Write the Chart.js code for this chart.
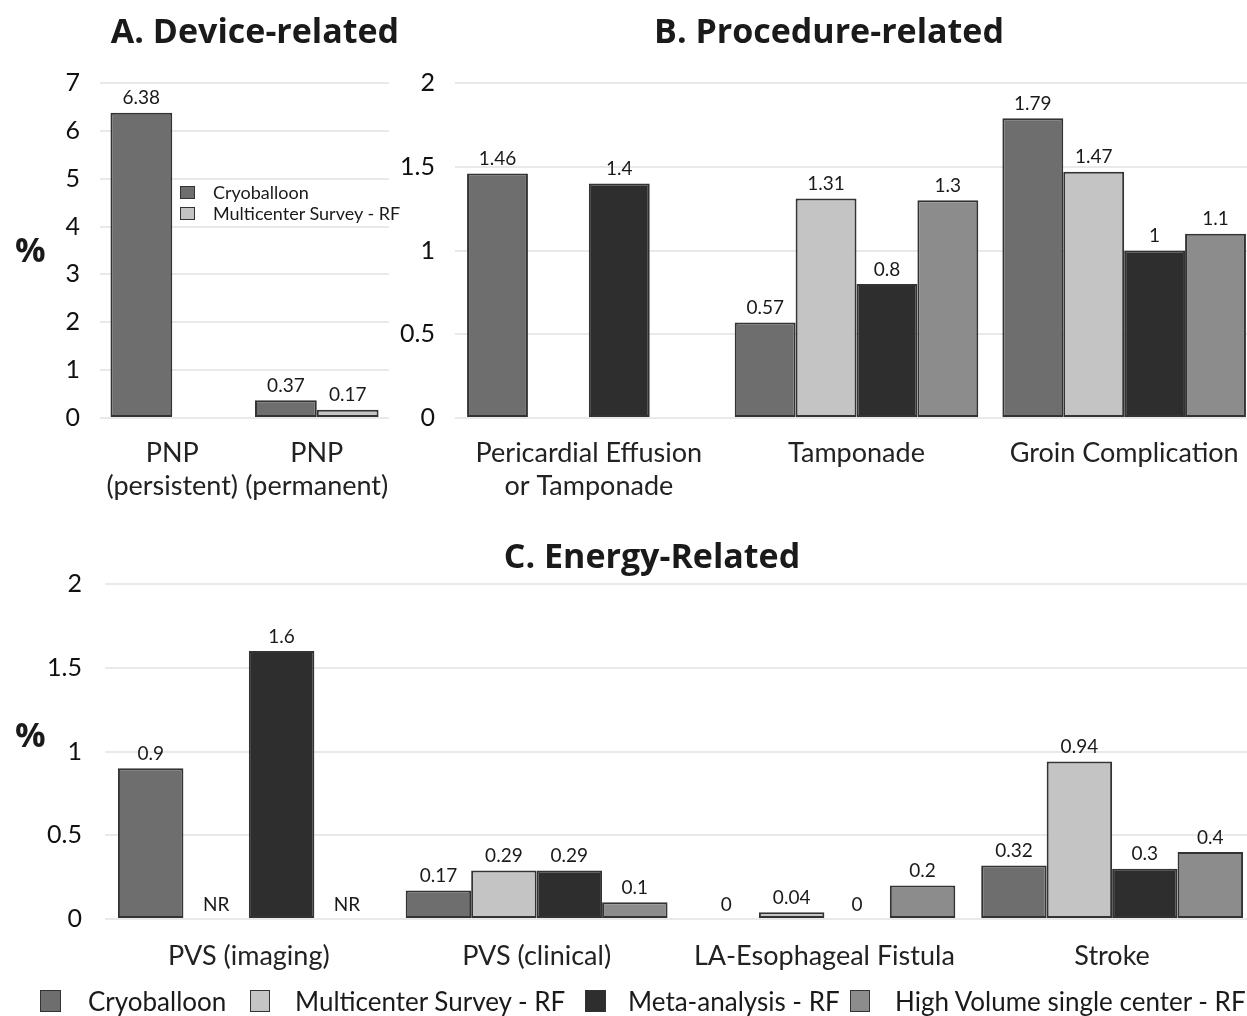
<!DOCTYPE html>
<html>
<head>
<meta charset="utf-8">
<script src="https://cdn.jsdelivr.net/npm/chart.js"></script>
<style>
  html, body { margin: 0; padding: 0; background: #fff; overflow: hidden; }
  body { width: 1247px; height: 1016px; position: relative; font-family: Lato, "Open Sans", sans-serif; color: #1a1a1a; }
  canvas { position: absolute; }
  .title { position: absolute; font-family: "Open Sans", sans-serif; font-weight: 700; font-size: 34px; color: #1a1a1a; transform: translate(-50%, -50%); white-space: nowrap; }
  .pct { position: absolute; font-family: "Open Sans", sans-serif; font-weight: 700; font-size: 34px; color: #1a1a1a; }
  .lg { position: absolute; display: flex; align-items: center; white-space: nowrap; }
  .lg i { display: inline-block; border: 1.5px solid #333; box-sizing: border-box; }
</style>
</head>
<body>
<canvas id="chartA" width="410" height="472" style="left:0; top:48px;"></canvas>
<canvas id="chartB" width="870" height="472" style="left:400px; top:48px;"></canvas>
<canvas id="chartC" width="1270" height="470" style="left:0; top:546px;"></canvas>

<div class="title" style="left:255px; top:30px;">A. Device-related</div>
<div class="title" style="left:829px; top:30px;">B. Procedure-related</div>
<div class="title" style="left:652px; top:555px;">C. Energy-Related</div>
<div class="pct" style="left:15px; top:226px;">%</div>
<div class="pct" style="left:15px; top:711px;">%</div>

<div class="lg" style="left:180px; top:181px; font-size:18px;"><i style="width:15px;height:13px;background:#6e6e6e;margin-right:18px;"></i>Cryoballoon</div>
<div class="lg" style="left:180px; top:202px; font-size:18px;"><i style="width:15px;height:13px;background:#c4c4c4;margin-right:18px;"></i>Multicenter Survey - RF</div>

<div class="lg" style="left:40px; top:985px; font-size:26px;"><i style="width:21px;height:22px;background:#6e6e6e;margin-right:27px;"></i>Cryoballoon</div>
<div class="lg" style="left:250px; top:985px; font-size:26px;"><i style="width:20px;height:22px;background:#c4c4c4;margin-right:25px;"></i>Multicenter Survey - RF</div>
<div class="lg" style="left:585px; top:985px; font-size:26px;"><i style="width:21px;height:22px;background:#2e2e2e;margin-right:22px;"></i>Meta-analysis - RF</div>
<div class="lg" style="left:850px; top:985px; font-size:26px;"><i style="width:20px;height:22px;background:#8c8c8c;margin-right:25px;"></i>High Volume single center - RF</div>

<script>
// --- data ---
const seriesNames = ['Cryoballoon', 'Multicenter Survey - RF', 'Meta-analysis - RF', 'High Volume single center - RF'];
const seriesColors = ['#6e6e6e', '#c4c4c4', '#2e2e2e', '#8c8c8c'];

const aCategories = [['PNP', '(persistent)'], ['PNP', '(permanent)']];
const aCryo = [6.38, 0.37];
const aMulti = [null, 0.17];
const aTicks = [0, 1, 2, 3, 4, 5, 6, 7];

const bCategories = [['Pericardial Effusion', 'or Tamponade'], 'Tamponade', 'Groin Complication'];
const bCryo = [1.46, 0.57, 1.79];
const bMulti = [null, 1.31, 1.47];
const bMeta = [1.4, 0.8, 1];
const bHigh = [null, 1.3, 1.1];
const bTicks = [0, 0.5, 1, 1.5, 2];

const cCategories = ['PVS (imaging)', 'PVS (clinical)', 'LA-Esophageal Fistula', 'Stroke'];
const cCryo = [0.9, 0.17, 0, 0.32];
const cMulti = [null, 0.29, 0.04, 0.94];
const cMeta = [1.6, 0.29, 0, 0.3];
const cHigh = [null, 0.1, 0.2, 0.4];
const cTicks = [0, 0.5, 1, 1.5, 2];

// labels above each bar; null bars get opts.nullText (if any)
const valueLabels = {
  id: 'valueLabels',
  afterDatasetsDraw(chart, args, opts) {
    const ctx = chart.ctx;
    const base = chart.scales.y.getPixelForValue(0);
    ctx.save();
    ctx.font = '19px Lato, sans-serif';
    ctx.fillStyle = '#1a1a1a';
    ctx.textAlign = 'center';
    ctx.textBaseline = 'bottom';
    chart.data.datasets.forEach((ds, i) => {
      chart.getDatasetMeta(i).data.forEach((bar, j) => {
        const v = ds.data[j];
        const text = v === null ? opts.nullText : String(v);
        if (!text) return;
        const top = v === null ? base : bar.y;
        ctx.fillText(text, bar.x, top - 5);
      });
    });
    ctx.restore();
  }
};

function makeDatasets(values) {
  return values.map((vals, i) => ({
    label: seriesNames[i],
    data: vals,
    backgroundColor: seriesColors[i],
    borderColor: '#333',
    borderWidth: 2,
    borderSkipped: false
  }));
}

function makeChart(id, categories, values, ticks, cfg) {
  return new Chart(document.getElementById(id), {
    type: 'bar',
    data: { labels: categories, datasets: makeDatasets(values) },
    options: {
      responsive: false,
      animation: false,
      layout: { padding: cfg.padding },
      datasets: { bar: { barPercentage: 1, categoryPercentage: cfg.catPct } },
      plugins: {
        legend: { display: false },
        tooltip: { enabled: false },
        valueLabels: { nullText: cfg.nullText }
      },
      scales: {
        x: {
          grid: { display: false, drawTicks: false },
          border: { display: false },
          ticks: { color: '#222', font: { family: 'Lato', size: 27, lineHeight: 1.25 }, padding: cfg.xPad, maxRotation: 0, autoSkip: false },
          afterFit: s => { s.height = cfg.xHeight; }
        },
        y: {
          min: ticks[0],
          max: ticks[ticks.length - 1],
          afterBuildTicks: s => { s.ticks = ticks.map(v => ({ value: v })); },
          grid: { color: '#e9e9e9', lineWidth: 2, drawTicks: false },
          border: { display: false },
          ticks: { color: '#111', font: { family: 'Lato', size: 25 }, padding: cfg.yPad, callback: v => String(v) },
          afterFit: s => { s.width = cfg.yWidth; }
        }
      }
    },
    plugins: [valueLabels]
  });
}

makeChart('chartA', aCategories, [aCryo, aMulti], aTicks,
  { padding: { top: 0, left: 0, right: 15, bottom: 0 }, catPct: 0.855, yWidth: 100, yPad: 20, xHeight: 102, xPad: 18, nullText: '' });

makeChart('chartB', bCategories, [bCryo, bMulti, bMeta, bHigh], bTicks,
  { padding: { top: 0, left: 0, right: 12, bottom: 0 }, catPct: 0.91, yWidth: 55, yPad: 20, xHeight: 102, xPad: 18, nullText: '' });

makeChart('chartC', cCategories, [cCryo, cMulti, cMeta, cHigh], cTicks,
  { padding: { top: 0, left: 0, right: 14, bottom: 0 }, catPct: 0.91, yWidth: 105, yPad: 23, xHeight: 97, xPad: 20, nullText: 'NR' });
</script>
</body>
</html>
